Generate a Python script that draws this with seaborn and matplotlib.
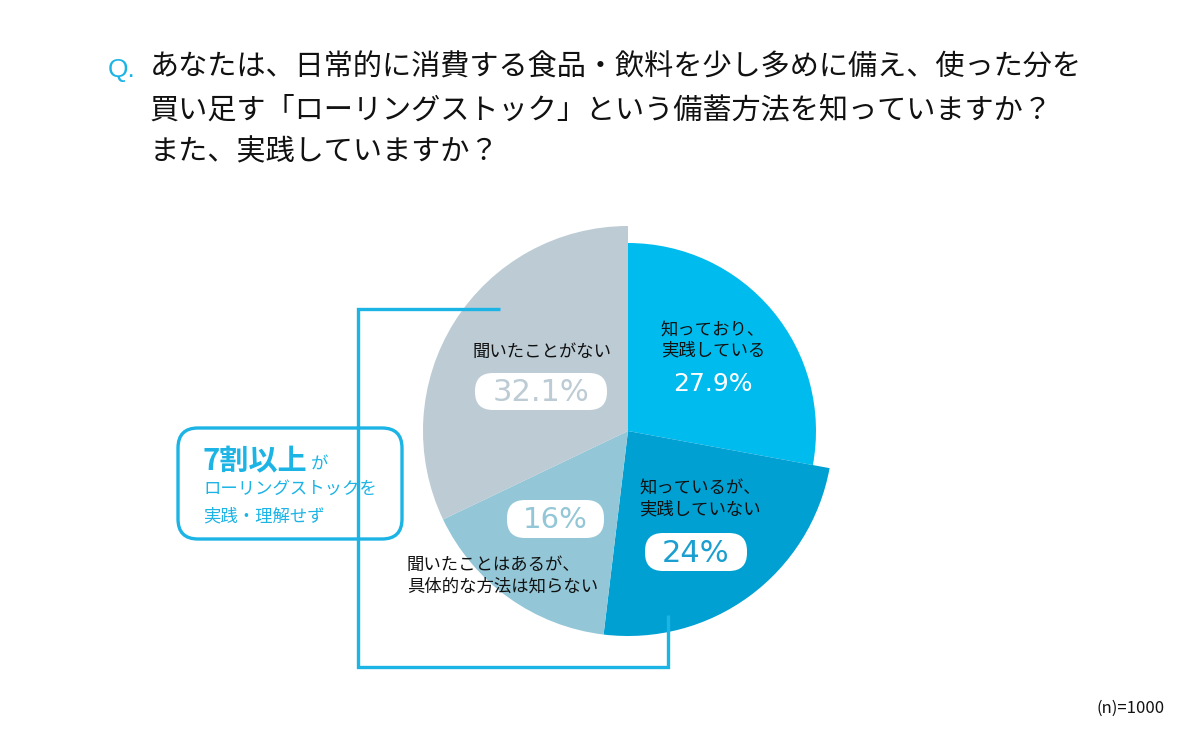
import matplotlib
matplotlib.use("Agg")
import matplotlib.pyplot as plt
import seaborn as sns
from matplotlib.patches import FancyBboxPatch

# data
labels = ["知っており、\n実践している", "知っているが、\n実践していない",
          "聞いたことはあるが、\n具体的な方法は知らない", "聞いたことがない"]
shares = [27.9, 24.0, 16.0, 32.1]
pct_labels = ["27.9%", "24%", "16%", "32.1%"]
title_lines = ["あなたは、日常的に消費する食品・飲料を少し多めに備え、使った分を",
               "買い足す「ローリングストック」という備蓄方法を知っていますか？",
               "また、実践していますか？"]
note = "(n)=1000"

sns.set_theme(style="white")
plt.rcParams["font.family"] = ["Noto Sans CJK JP", "DejaVu Sans"]

slice_colors = ["#00bcee", "#00a0d3", "#93c6d7", "#bccbd4"]
accent = "#1cb4e5"
num_font = ["DejaVu Sans"]

W, H = 1200, 743
fig = plt.figure(figsize=(W / 100, H / 100), dpi=100)
fig.patch.set_facecolor("white")

# pie axes, center (628, 431) px, radius 205 px
cx, cy, R = 628, 431, 205
pax = fig.add_axes([(cx - R) / W, 1 - (cy + R) / H, 2 * R / W, 2 * R / H])
wedges, _ = pax.pie(shares, colors=slice_colors, startangle=90, counterclock=False,
                    radius=1, wedgeprops=dict(linewidth=0))
wedges[0].set_radius(188 / 205)
pax.set_xlim(-1, 1)
pax.set_ylim(-1, 1)
pax.axis("off")

# overlay in pixel coords
ax = fig.add_axes([0, 0, 1, 1], facecolor="none")
ax.set_xlim(0, W)
ax.set_ylim(H, 0)
ax.axis("off")

# title
ax.text(108, 70, "Q.", color=accent, fontsize=19, ha="left", va="center",
        family=["Liberation Sans", "DejaVu Sans"])
for i, line in enumerate(title_lines):
    ax.text(150, 68 + 42 * i, line, fontsize=21, ha="left", va="center", color="#111111")

# bracket
ax.plot([500, 358, 358, 668, 668], [309, 309, 667, 667, 615], color=accent, lw=2.4,
        solid_joinstyle="miter", solid_capstyle="butt")

# callout box
ax.add_patch(FancyBboxPatch((178, 428), 224, 111, boxstyle="round,pad=0,rounding_size=20",
                            fc="white", ec=accent, lw=2.4))
ax.text(203, 470, "7割以上", color=accent, fontsize=21, fontweight="bold",
        ha="left", va="baseline")
ax.text(311, 470, "が", color=accent, fontsize=12.5, ha="left", va="baseline")
ax.text(203, 489, "ローリングストックを", color=accent, fontsize=12.5, ha="left", va="center")
ax.text(203, 516, "実践・理解せず", color=accent, fontsize=12.5, ha="left", va="center")

# slice labels
lab_pos = [(713, 340, "center"), (700, 499, "center"), (407, 576, "left"), (542, 352, "center")]
for (x, y, ha), lab in zip(lab_pos, labels):
    ax.text(x, y, lab, fontsize=12.5, ha=ha, va="center", color="#111111", linespacing=1.25)

# percentages
ax.text(713, 384, pct_labels[0], color="white", fontsize=18, ha="center", va="center",
        family=num_font)
pill = [(1, 645, 533, 102, 38, "#1a9fd0", 22),
        (2, 507, 500, 97, 38, "#93c6d7", 21),
        (3, 475, 373, 132, 37, "#bccbd4", 22)]
for idx, x0, y0, w, h, col, fs in pill:
    ax.add_patch(FancyBboxPatch((x0, y0), w, h, boxstyle="round,pad=0,rounding_size=18",
                                fc="white", ec="none"))
    ax.text(x0 + w / 2, y0 + h / 2 + 1, pct_labels[idx], color=col, fontsize=fs,
            ha="center", va="center", family=num_font)

ax.text(1165, 708, note, fontsize=12, ha="right", va="center", color="#111111")

fig.savefig("out.png", dpi=100)
